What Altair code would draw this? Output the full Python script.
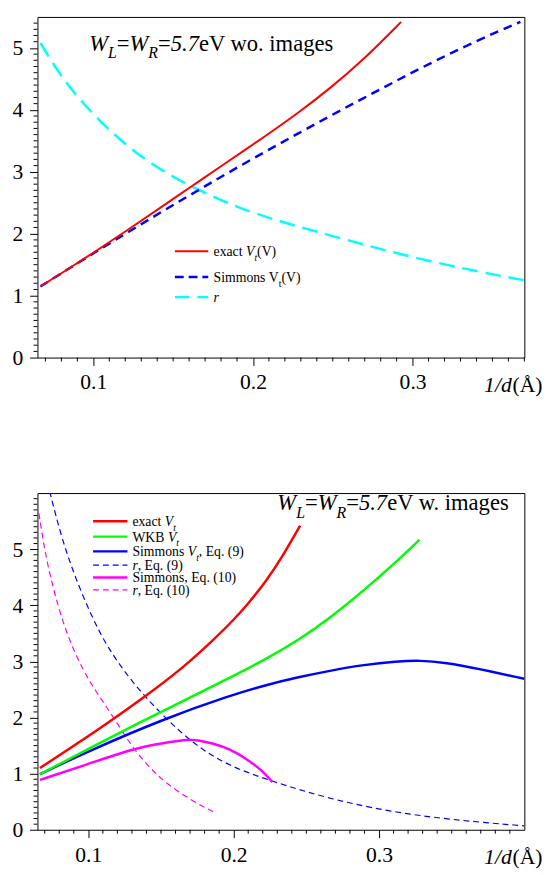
import altair as alt
import pandas as pd

FONT = "Liberation Serif"

# ---------------- top panel data (without images) ----------------
top_exact_x = [0.0669, 0.0812, 0.1017, 0.1221, 0.1425, 0.163, 0.1834, 0.208, 0.2284, 0.2489, 0.2693, 0.2928]
top_exact_y = [1.15, 1.38, 1.72, 2.07, 2.43, 2.79, 3.15, 3.58, 3.95, 4.36, 4.81, 5.42]

top_simm_x = [0.0669, 0.0812, 0.1017, 0.1221, 0.1425, 0.163, 0.1834, 0.208, 0.2284, 0.2489, 0.2693, 0.2898, 0.3102, 0.3307, 0.3511, 0.3675]
top_simm_y = [1.15, 1.38, 1.71, 2.03, 2.35, 2.66, 2.97, 3.33, 3.62, 3.91, 4.19, 4.47, 4.74, 5.00, 5.24, 5.42]

top_r_x = [0.0669, 0.0812, 0.1017, 0.1221, 0.1425, 0.163, 0.1834, 0.208, 0.2489, 0.2898, 0.3307, 0.3695]
top_r_y = [5.08, 4.47, 3.87, 3.39, 3.02, 2.74, 2.50, 2.26, 1.97, 1.68, 1.44, 1.25]

# ---------------- bottom panel data (with images) ----------------
bot_exact_x = [0.0667, 0.1, 0.1072, 0.1399, 0.1635, 0.1872, 0.2, 0.21, 0.2221, 0.2334, 0.2457]
bot_exact_y = [1.10, 1.67, 1.79, 2.39, 2.85, 3.41, 3.74, 4.03, 4.42, 4.86, 5.42]

bot_wkb_x = [0.0667, 0.1, 0.1297, 0.1523, 0.1973, 0.2221, 0.2446, 0.2671, 0.2897, 0.3122, 0.3279]
bot_wkb_y = [0.99, 1.44, 1.84, 2.13, 2.71, 3.04, 3.38, 3.79, 4.27, 4.78, 5.17]

bot_simm9_x = [0.0667, 0.1, 0.1523, 0.1973, 0.2221, 0.2446, 0.2671, 0.2897, 0.3122, 0.3279, 0.3459, 0.3685, 0.4]
bot_simm9_y = [0.99, 1.40, 1.98, 2.39, 2.58, 2.72, 2.84, 2.94, 3.00, 3.02, 2.98, 2.87, 2.69]

bot_r9_x = [0.0734, 0.0813, 0.0903, 0.1016, 0.1128, 0.1303, 0.1523, 0.1748, 0.1973, 0.2266, 0.2672, 0.3122, 0.3572, 0.4]
bot_r9_y = [6.03, 5.23, 4.54, 3.84, 3.26, 2.62, 2.00, 1.48, 1.13, 0.86, 0.54, 0.30, 0.16, 0.07]

bot_simm10_x = [0.0667, 0.1, 0.1297, 0.1523, 0.169, 0.1748, 0.186, 0.1973, 0.2086, 0.2199, 0.2266]
bot_simm10_y = [0.89, 1.17, 1.44, 1.55, 1.61, 1.60, 1.54, 1.44, 1.27, 1.05, 0.85]

bot_r10_x = [0.066, 0.0701, 0.0768, 0.0858, 0.0971, 0.1072, 0.1185, 0.1297, 0.141, 0.1523, 0.1703, 0.1883]
bot_r10_y = [5.64, 4.94, 4.19, 3.43, 2.80, 2.39, 1.96, 1.49, 1.14, 0.85, 0.53, 0.29]

x_major = [0.1, 0.2, 0.3]
y_major = [0, 1, 2, 3, 4, 5]

TOP_W, TOP_H = 496, 347
BOT_W, BOT_H = 496, 343

# Times metrics (per 1000 em) for chaining rich text segments
REG = {' ': 250, '(': 333, ')': 333, ',': 250, '.': 250, '/': 278, '=': 564,
       'A': 722, 'B': 667, 'E': 611, 'K': 722, 'S': 556, 'V': 722, 'W': 944,
       'a': 444, 'c': 444, 'd': 500, 'e': 444, 'g': 500, 'i': 278, 'm': 778,
       'n': 500, 'o': 500, 'q': 500, 'r': 333, 's': 389, 't': 278, 'w': 722,
       'x': 500, 'Å': 722}
ITA = {'W': 833, 'L': 556, 'R': 611, 'V': 611, 't': 278, 'r': 389, '=': 675,
       '.': 250, '/': 278, 'd': 500}

dummy = pd.DataFrame({"d": [0]})


def text_width(s, size, italic):
    table = ITA if italic else REG
    return sum(table.get(c, 500) for c in s) * size / 1000.0


def rich(segments, x, y, size):
    """segments: list of (text, style); style: n, i, sn (sub normal), si (sub italic)"""
    layers = []
    cx = x
    for txt, st in segments:
        sub = st.startswith("s")
        italic = st.endswith("i")
        fs = size * 0.7 if sub else size
        yy = y + size * 0.33 if sub else y
        layers.append(
            alt.Chart(dummy).mark_text(
                text=txt, align="left", baseline="alphabetic", font=FONT,
                fontSize=fs, fontStyle="italic" if italic else "normal", color="black"
            ).encode(x=alt.value(cx), y=alt.value(yy))
        )
        cx += text_width(txt, fs, italic)
    return layers


def legend_line(x1, x2, y, color, width, dash=None):
    kw = dict(color=color, strokeWidth=width, strokeCap="butt")
    if dash:
        kw["strokeDash"] = dash
    return alt.Chart(dummy).mark_rule(**kw).encode(
        x=alt.value(x1), x2=alt.value(x2), y=alt.value(y))


def panel(xdom, ydom, W, H, series, title_layers, legend_layers):
    xs = alt.Scale(domain=xdom, nice=False, zero=False)
    ys = alt.Scale(domain=ydom, nice=False, zero=False)
    xaxis = alt.Axis(values=x_major, format=".1f", title=None)
    yaxis = alt.Axis(values=y_major, format="d", title=None)
    layers = []
    for xv, yv, color, width, dash in series:
        df = pd.DataFrame({"x": xv, "y": yv})
        kw = dict(color=color, strokeWidth=width, clip=True, interpolate="basis")
        if dash:
            kw["strokeDash"] = dash
        layers.append(alt.Chart(df).mark_line(**kw).encode(
            x=alt.X("x:Q", scale=xs, axis=xaxis),
            y=alt.Y("y:Q", scale=ys, axis=yaxis)))
    # minor ticks
    xmin_vals = [v / 100 for v in range(0, 100) if xdom[0] <= v / 100 <= xdom[1] and v % 10 != 0]
    ymin_vals = [v / 10 for v in range(0, 100) if ydom[0] <= v / 10 < ydom[1] and v % 10 != 0]
    layers.append(alt.Chart(pd.DataFrame({"x": xmin_vals})).mark_rule(
        color="black", strokeWidth=1, strokeCap="butt").encode(
        x=alt.X("x:Q", scale=xs, axis=xaxis), y=alt.value(H), y2=alt.value(H + 4)))
    layers.append(alt.Chart(pd.DataFrame({"y": ymin_vals})).mark_rule(
        color="black", strokeWidth=1, strokeCap="butt").encode(
        y=alt.Y("y:Q", scale=ys, axis=yaxis), x=alt.value(0), x2=alt.value(-4)))
    # axis title 1/d(Å)
    layers.append(alt.Chart(dummy).mark_text(
        text="1/d", align="left", baseline="alphabetic", font=FONT, fontSize=22,
        fontStyle="italic", color="black").encode(x=alt.value(455), y=alt.value(H + 35)))
    layers.append(alt.Chart(dummy).mark_text(
        text="(Å)", align="left", baseline="alphabetic", font=FONT, fontSize=22,
        color="black").encode(x=alt.value(484), y=alt.value(H + 35)))
    layers += title_layers + legend_layers
    return alt.layer(*layers).properties(width=W, height=H)


# ---------------- top panel ----------------
top_series = [
    (top_r_x, top_r_y, "#00ffff", 2.5, [16, 8]),
    (top_simm_x, top_simm_y, "#0000ff", 2.5, [9, 6]),
    (top_exact_x, top_exact_y, "#ff0000", 2, None),
]
top_title = rich([("W", "i"), ("L", "si"), ("=", "n"), ("W", "i"), ("R", "si"),
                  ("=", "n"), ("5.7", "i"), ("eV wo. images", "n")], 52.7, 34.4, 23)
top_leg = [
    legend_line(140, 174, 238.7, "#ff0000", 2),
    legend_line(140, 174, 265, "#0000ff", 2.5, [9, 5]),
    legend_line(140, 174, 285.4, "#00ffff", 2.5, [15, 8]),
]
top_leg += rich([("exact ", "n"), ("V", "i"), ("t", "si"), ("(V)", "n")], 179.4, 238.7 + 5, 14)
top_leg += rich([("Simmons V", "n"), ("t", "sn"), ("(V)", "n")], 179.4, 265 + 5, 14)
top_leg += rich([("r", "i")], 179.4, 285.4 + 5, 14)

top = panel([0.065, 0.37], [0, 5.5], TOP_W, TOP_H, top_series, top_title, top_leg)

# ---------------- bottom panel ----------------
bot_series = [
    (bot_r10_x, bot_r10_y, "#ff00ff", 1.2, [6, 4]),
    (bot_r9_x, bot_r9_y, "#0000ff", 1.2, [6, 4]),
    (bot_simm10_x, bot_simm10_y, "#ff00ff", 2.5, None),
    (bot_simm9_x, bot_simm9_y, "#0000ff", 2.5, None),
    (bot_wkb_x, bot_wkb_y, "#00ff00", 2.5, None),
    (bot_exact_x, bot_exact_y, "#ff0000", 2.5, None),
]
bot_title = rich([("W", "i"), ("L", "si"), ("=", "n"), ("W", "i"), ("R", "si"),
                  ("=", "n"), ("5.7", "i"), ("eV w. images", "n")], 244.4, 17.7, 23)
rows = [28.7, 44.4, 59.4, 73.4, 86, 98.7]
bot_leg = [
    legend_line(56.7, 91.7, rows[0], "#ff0000", 2.5),
    legend_line(56.7, 91.7, rows[1], "#00ff00", 2.5),
    legend_line(56.7, 91.7, rows[2], "#0000ff", 2.5),
    legend_line(56.7, 91.7, rows[3], "#0000ff", 1.2, [6, 4]),
    legend_line(56.7, 91.7, rows[4], "#ff00ff", 2.5),
    legend_line(56.7, 91.7, rows[5], "#ff00ff", 1.2, [6, 4]),
]
bot_leg += rich([("exact ", "n"), ("V", "i"), ("t", "si")], 96.7, rows[0] + 5, 14)
bot_leg += rich([("WKB ", "n"), ("V", "i"), ("t", "si")], 96.7, rows[1] + 5, 14)
bot_leg += rich([("Simmons ", "n"), ("V", "i"), ("t", "si"), (", Eq. (9)", "n")], 96.7, rows[2] + 5, 14)
bot_leg += rich([("r", "i"), (", Eq. (9)", "n")], 96.7, rows[3] + 5, 14)
bot_leg += rich([("Simmons, Eq. (10)", "n")], 96.7, rows[4] + 5, 14)
bot_leg += rich([("r", "i"), (", Eq. (10)", "n")], 96.7, rows[5] + 5, 14)

bottom = panel([0.065, 0.4], [0, 6], BOT_W, BOT_H, bot_series, bot_title, bot_leg)

chart = alt.vconcat(top, bottom, spacing=138, bounds="flush").properties(
    padding={"left": 3, "top": 0, "right": 0, "bottom": 0},
    background="white",
).configure_view(stroke="black", strokeWidth=1).configure_axis(
    grid=False, domain=False, tickSize=8, tickColor="black", tickWidth=1,
    labelFont=FONT, labelFontSize=22, labelColor="black", labelPadding=7
)

chart.save("out.html", embed_options={"renderer": "svg", "actions": False})
